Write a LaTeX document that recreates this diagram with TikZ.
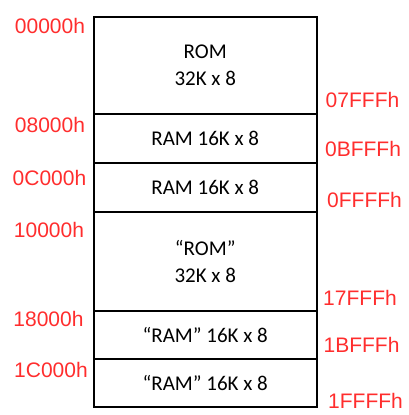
\documentclass[tikz,border=0pt]{standalone}
\usepackage{fontspec}
\setmainfont{Carlito}
\newfontfamily\adrfont{Liberation Sans}
\usetikzlibrary{positioning}
\definecolor{rouge}{RGB}{255,45,45}
\tikzset{
  bloc/.style={draw, line width=2pt, minimum width=223.5pt, inner sep=0pt,
    align=center, font=\fontsize{21}{27.5}\selectfont},
  adr/.style={rouge, inner sep=0pt, font=\adrfont\fontsize{21}{25}\selectfont}
}
\begin{document}
\begin{tikzpicture}[x=1pt, y=-1pt]
				\useasboundingbox (0,0) rectangle (408,415);
				% blocs de la carte memoire
				\node[bloc, minimum height=97.5pt] (rom) at (205.25,65.25) {ROM\\32K x 8};
				\node[bloc, minimum height=49pt] (ramA) at (205.25,138.5) {RAM 16K x 8};
				\node[bloc, minimum height=49pt] (ramB) at (205.25,187.5) {RAM 16K x 8};
				\node[bloc, minimum height=99pt] (romB) at (205.25,261.5) {“ROM”\\32K x 8};
				\node[bloc, minimum height=48pt] (ramC) at (205.25,335) {“RAM” 16K x 8};
				\node[bloc, minimum height=48pt] (ramD) at (205.25,383) {“RAM” 16K x 8};
				% adresses de debut
				\node[adr] (debRom) at (50,26) {00000h};
				\node[adr] (debRamA) at (50,124.5) {08000h};
				\node[adr] (debRamB) at (49.5,177.5) {0C000h};
				\node[adr] (debRomB) at (49,229.5) {10000h};
				\node[adr] (debRamC) at (48.5,319) {18000h};
				\node[adr] (debRamD) at (51,370) {1C000h};
				% adresses de fin
				\node[adr] (finRom) at (362.5,100) {07FFFh};
				\node[adr] (finRamA) at (363,149) {0BFFFh};
				\node[adr] (finRamB) at (364.5,199.5) {0FFFFh};
				\node[adr] (finRomB) at (360,297.5) {17FFFh};
				\node[adr] (finRamC) at (361.5,345) {1BFFFh};
				\node[adr] (finRamD) at (365.5,400.5) {1FFFFh};
\end{tikzpicture}
\end{document}
